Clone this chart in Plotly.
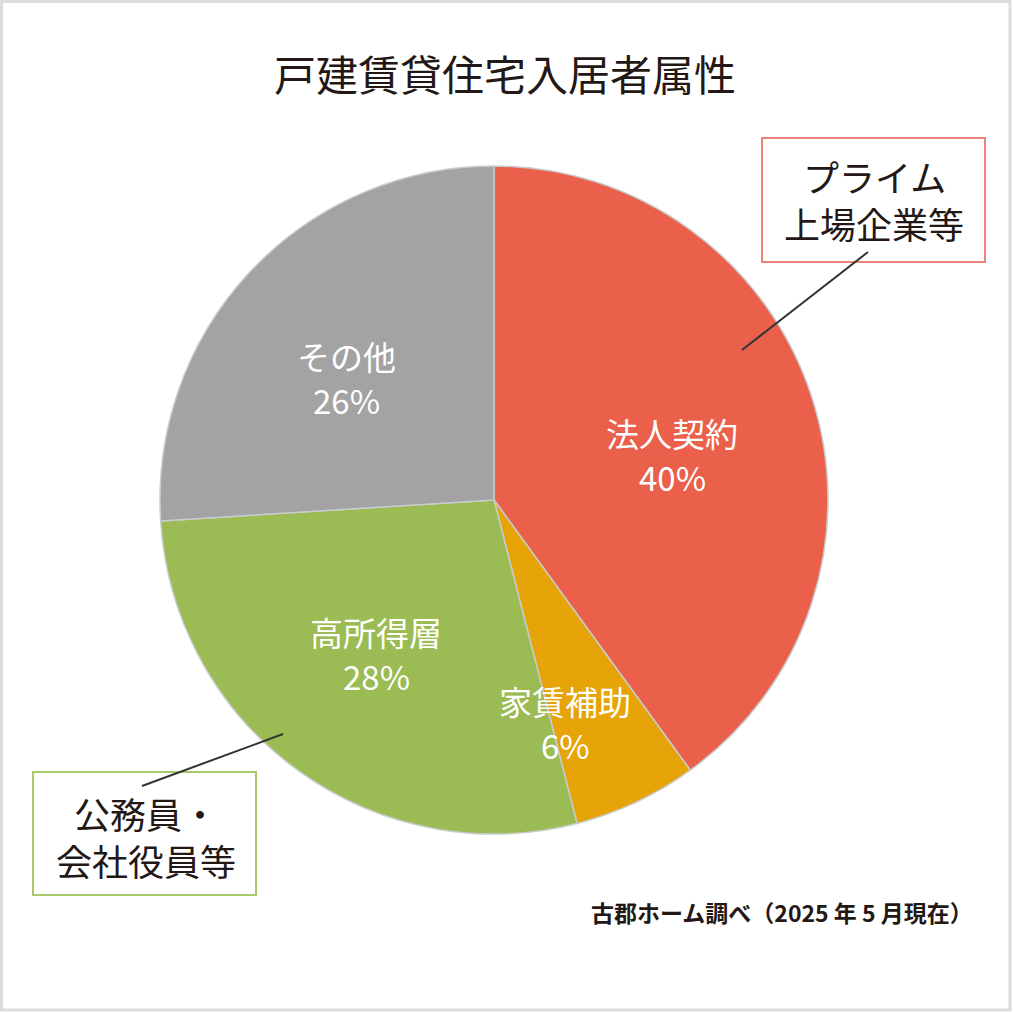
import plotly.graph_objects as go

# 戸建賃貸住宅入居者属性（古郡ホーム調べ 2025年5月現在）
labels = ['法人契約', '家賃補助', '高所得層', 'その他']
values = [40, 6, 28, 26]
colors = ['#EA604B', '#E6A408', '#9BBB54', '#A3A3A3']
callout_top = ['プライム', '上場企業等']
callout_bottom = ['公務員・', '会社役員等']

W = H = 1014
FONT = 'Noto Sans CJK JP'


def px(x):
    return x / W


def py(y):
    return 1 - y / H


# pie: centre (494, 500), radius 334 px
cx, cy, r = 494, 500, 334

fig = go.Figure()
fig.add_trace(go.Pie(
    labels=labels, values=values, sort=False, direction='clockwise', rotation=0,
    marker=dict(colors=colors, line=dict(color='#C8CCCC', width=1.5)),
    textinfo='none', hoverinfo='label+percent', showlegend=False,
    domain=dict(x=[px(cx - r), px(cx + r)], y=[py(cy + r), py(cy - r)]),
))

# labels inside the slices (name line, percent line)
label_pos = {'法人契約': (672, 433), '家賃補助': (565, 701),
             '高所得層': (376, 632), 'その他': (346, 356)}
annotations = []
for lab, v in zip(labels, values):
    x, y = label_pos[lab]
    for i, t in enumerate([lab, f'{v}%']):
        annotations.append(dict(
            x=px(x), y=py(y + i * 44), xref='paper', yref='paper', showarrow=False,
            text=t, font=dict(family=FONT, size=33, color='white'),
            xanchor='center', yanchor='middle'))

# callout texts, one annotation per line
for lines, (x, y) in [(callout_top, (874, 176)), (callout_bottom, (146, 813))]:
    for i, t in enumerate(lines):
        annotations.append(dict(
            x=px(x), y=py(y + i * 47), xref='paper', yref='paper', showarrow=False,
            text=t, font=dict(family=FONT, size=36, color='#231815'),
            xanchor='center', yanchor='middle'))

# title and source
annotations.append(dict(
    x=px(505), y=py(72), xref='paper', yref='paper', showarrow=False,
    text='戸建賃貸住宅入居者属性', font=dict(family=FONT, size=42, color='#231815'),
    xanchor='center', yanchor='middle'))
annotations.append(dict(
    x=px(975), y=py(912), xref='paper', yref='paper', showarrow=False,
    text='<b>古郡ホーム調べ（2025 年 5 月現在）</b>',
    font=dict(family=FONT, size=23, color='#231815'),
    xanchor='right', yanchor='middle'))

shapes = [
    # callout boxes
    dict(type='rect', xref='paper', yref='paper', x0=px(762), y0=py(262),
         x1=px(985), y1=py(138), line=dict(color='#EE8478', width=2)),
    dict(type='rect', xref='paper', yref='paper', x0=px(33), y0=py(895),
         x1=px(256), y1=py(772), line=dict(color='#A9C96A', width=2)),
    # leader lines
    dict(type='line', xref='paper', yref='paper', x0=px(868), y0=py(252),
         x1=px(742), y1=py(350), line=dict(color='#333333', width=2)),
    dict(type='line', xref='paper', yref='paper', x0=px(142), y0=py(786),
         x1=px(283), y1=py(734), line=dict(color='#333333', width=2)),
    # outer frame
    dict(type='rect', xref='paper', yref='paper', x0=px(1.5), y0=py(1010),
         x1=px(1010), y1=py(1.5), line=dict(color='#DCDCDC', width=3)),
]

fig.update_layout(
    width=W, height=H, margin=dict(l=0, r=0, t=0, b=0),
    paper_bgcolor='white', plot_bgcolor='white',
    annotations=annotations, shapes=shapes,
)

fig.write_html('out.html', config={'displayModeBar': False},
               post_script="document.body.style.margin='0';"
                           "document.body.style.overflow='hidden';")
